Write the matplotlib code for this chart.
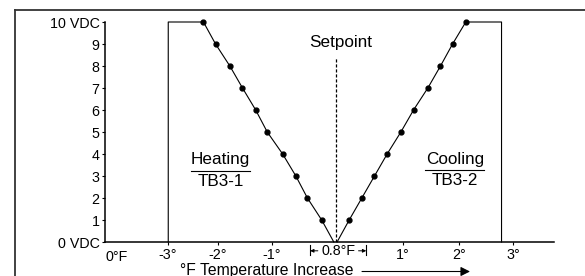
import matplotlib
matplotlib.use('Agg')
import matplotlib.pyplot as plt
from matplotlib.lines import Line2D
from matplotlib.patches import FancyArrowPatch

plt.rcParams['font.family'] = ['Liberation Sans', 'DejaVu Sans']

# x in schematic degF units (setpoint = 0), y in volts
volts = [10, 9, 8, 7, 6, 5, 4, 3, 2, 1]
heat_x = [-2.41, -2.19, -1.93, -1.70, -1.46, -1.25, -0.97, -0.73, -0.52, -0.26]
cool_x = [2.36, 2.12, 1.90, 1.67, 1.41, 1.18, 0.93, 0.70, 0.47, 0.24]
heat_edge = -3.05
cool_edge = 3.01
heat_zero = -0.04
cool_zero = 0.02

tick_pos = [-3.06, -2.15, -1.17, 1.22, 2.24, 3.22]
tick_labels = ['-3°', '-2°', '-1°', '1°', '2°', '3°']
y_ticks = [0, 1, 2, 3, 4, 5, 6, 7, 8, 9, 10]
y_labels = ['0 VDC', '1', '2', '3', '4', '5', '6', '7', '8', '9', '10 VDC']
deadband = [-0.47, 0.55]

fig = plt.figure(figsize=(5.85, 2.76), dpi=100)
ax = fig.add_axes([105/585, 34/276, 449/585, 220/276])

# heating leg
ax.plot([heat_edge, heat_edge, heat_x[0]] + heat_x + [heat_zero],
        [0, 10, 10] + volts + [0], color='black', lw=0.8, clip_on=False)
ax.plot(heat_x, volts, 'o', color='black', ms=3.5, clip_on=False)
# cooling leg
ax.plot([cool_zero] + cool_x[::-1] + [cool_x[0], cool_edge, cool_edge],
        [0] + volts[::-1] + [10, 10, 0], color='black', lw=0.8, clip_on=False)
ax.plot(cool_x, volts, 'o', color='black', ms=3.5, clip_on=False)

# setpoint
ax.plot([0, 0], [0, 8.4], color='black', lw=0.9, ls=(0, (2.5, 1.5)))
ax.text(0.08, 9.05, 'Setpoint', ha='center', va='center', fontsize=12.3)

# labels
ax.text(-2.1, 3.73, 'Heating', ha='center', va='center', fontsize=12.3)
ax.plot([-2.64, -1.56], [3.24, 3.24], color='black', lw=0.8)
ax.text(-2.1, 2.74, 'TB3-1', ha='center', va='center', fontsize=12.3)
ax.text(2.16, 3.76, 'Cooling', ha='center', va='center', fontsize=12.3)
ax.plot([1.62, 2.70], [3.27, 3.27], color='black', lw=0.8)
ax.text(2.16, 2.80, 'TB3-2', ha='center', va='center', fontsize=12.3)

ax.set_xlim(-4.2, 3.964)
ax.set_ylim(0, 10)
ax.set_xticks(tick_pos)
ax.set_xticklabels(tick_labels, fontsize=10.3)
ax.set_yticks(y_ticks)
ax.set_yticklabels(y_labels, fontsize=10.3)
ax.tick_params(axis='both', direction='out', length=2.5, width=0.8, pad=1.5)
for s in ['top', 'right']:
    ax.spines[s].set_visible(False)
for s in ['left', 'bottom']:
    ax.spines[s].set_linewidth(1.1)

ax.text(0, -0.067, '0°F', transform=ax.transAxes, ha='left', va='center', fontsize=10.3)

# 0.8 F deadband marker
for xb in deadband:
    ax.plot([xb, xb], [-0.15, -0.6], color='black', lw=0.8, clip_on=False)
ax.text(sum(deadband) / 2, -0.4, '0.8°F', ha='center', va='center', fontsize=10.3)
ax.annotate('', xy=(deadband[0], -0.4), xytext=(deadband[0] + 0.14, -0.4),
            arrowprops=dict(arrowstyle='-|>', color='black', lw=0.7,
                            mutation_scale=5, shrinkA=0, shrinkB=0),
            annotation_clip=False)
ax.annotate('', xy=(deadband[1], -0.4), xytext=(deadband[1] - 0.14, -0.4),
            arrowprops=dict(arrowstyle='-|>', color='black', lw=0.7,
                            mutation_scale=5, shrinkA=0, shrinkB=0),
            annotation_clip=False)

# axis caption with arrow
fig.text(180/585, 1 - 270/276, '°F Temperature Increase', ha='left', va='center', fontsize=11.3)
fig.add_artist(FancyArrowPatch(
    (362/585, 1 - 271.5/276), (470/585, 1 - 271.5/276), transform=fig.transFigure,
    arrowstyle='-|>', mutation_scale=14, lw=0.8, color='black',
    shrinkA=0, shrinkB=0))

# frame
fig.add_artist(Line2D([15/585, 15/585], [0, 1 - 10/276], color='#333333', lw=1.3))
fig.add_artist(Line2D([15/585, 1], [1 - 10/276, 1 - 10/276], color='#333333', lw=1.3))

fig.savefig('out.png', dpi=100)
